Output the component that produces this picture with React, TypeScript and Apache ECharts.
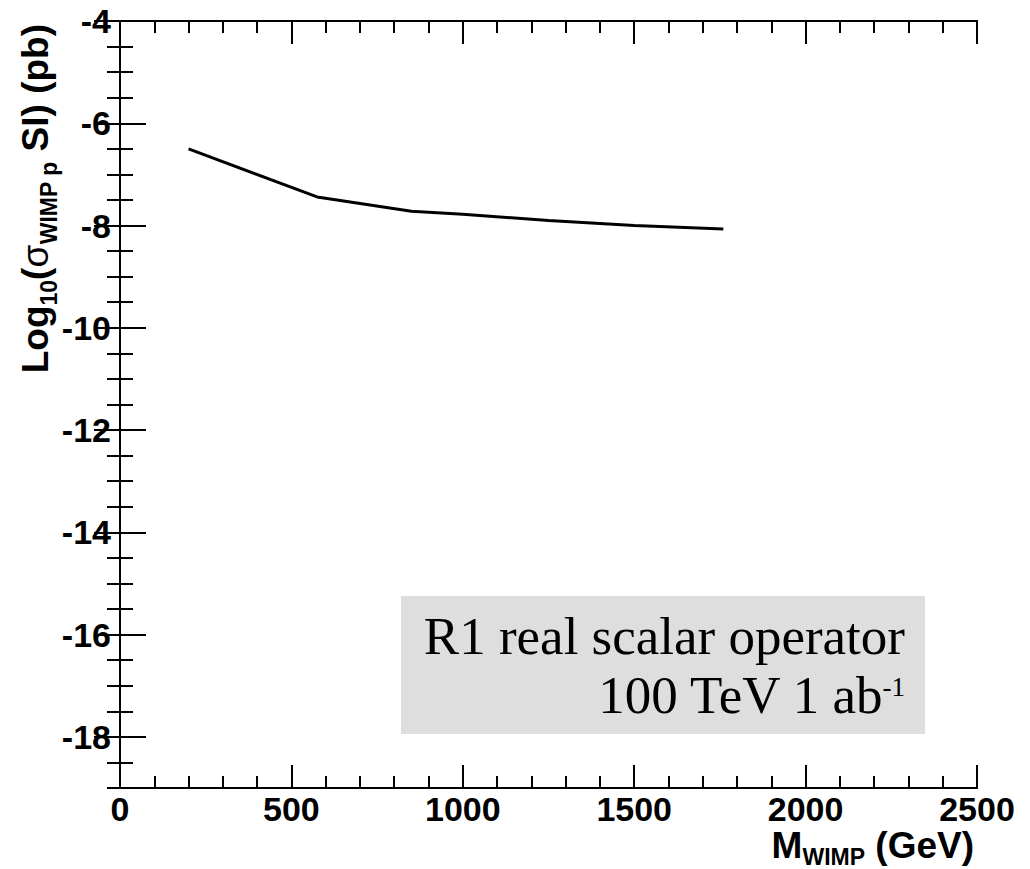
import React, { useEffect, useRef } from "react";
import * as echarts from "echarts";

// Data
const massGeV: number[] = [200, 575, 850, 1000, 1250, 1500, 1760];
const logSigma: number[] = [-6.5, -7.44, -7.72, -7.78, -7.9, -8.0, -8.07];
const yMajorTicks: number[] = [-18, -16, -14, -12, -10, -8, -6, -4];
const xRange: [number, number] = [0, 2500];
const yRange: [number, number] = [-19, -4];
const xTitleMain = "M";
const xTitleSub = "WIMP";
const xTitleUnit = " (GeV)";
const boxLine1 = "R1 real scalar operator";
const boxLine2 = "100 TeV 1 ab";
const boxSup = "-1";

const SANS = "Liberation Sans";
const SERIF = "Liberation Serif";

function measure(text: string, font: string): number {
  const c = document.createElement("canvas").getContext("2d");
  if (!c) return text.length * 20;
  c.font = font;
  return c.measureText(text).width;
}

export default function App() {
  const ref = useRef<HTMLDivElement>(null);

  useEffect(() => {
    if (!ref.current) return;
    const chart = echarts.init(ref.current, undefined, { renderer: "svg" });

    const line = { show: true, lineStyle: { color: "#000", width: 2 } };
    const noLabel = { show: false };
    const noSplit = { show: false };

    const xAx = (pos: string, interval: number, len: number, labels: boolean) => ({
      type: "value",
      position: pos,
      min: xRange[0],
      max: xRange[1],
      interval,
      axisLine: line,
      axisTick: { show: true, inside: true, length: len, lineStyle: { color: "#000", width: 2 } },
      axisLabel: labels
        ? {
            show: true,
            margin: 6,
            color: "#000",
            fontFamily: SANS,
            fontWeight: "bold",
            fontSize: 34,
            lineHeight: 30,
            formatter: (v: number) => String(v),
          }
        : noLabel,
      splitLine: noSplit,
    });

    const yAxMajor = (pos: string, labels: boolean) => ({
      type: "value",
      position: pos,
      min: yRange[0],
      max: yRange[1],
      interval: 1,
      axisLine: line,
      axisTick: {
        show: true,
        inside: true,
        length: 26,
        customValues: yMajorTicks,
        lineStyle: { color: "#000", width: 2 },
      },
      axisLabel: labels
        ? {
            show: true,
            customValues: yMajorTicks,
            margin: 9,
            color: "#000",
            fontFamily: SANS,
            fontWeight: "bold",
            fontSize: 34,
            formatter: (v: number) => String(v),
          }
        : noLabel,
      splitLine: noSplit,
    });

    const yAxMinor = (pos: string) => ({
      type: "value",
      position: pos,
      min: yRange[0],
      max: yRange[1],
      interval: 0.5,
      axisLine: line,
      axisTick: { show: true, inside: true, length: 13, lineStyle: { color: "#000", width: 2 } },
      axisLabel: noLabel,
      splitLine: noSplit,
    });

    const mainFont = `bold 37px "${SANS}"`;
    const subFont = `bold 23px "${SANS}"`;
    const xRight = 974;
    const wUnit = measure(xTitleUnit, mainFont);
    const wSub = measure(xTitleSub, subFont);

    const titleMain = { fontFamily: SANS, fontWeight: "bold", fontSize: 37, fill: "#000", lineHeight: 30 };
    const titleSub = { fontFamily: SANS, fontWeight: "bold", fontSize: 23, fill: "#000", lineHeight: 18 };

    const option: any = {
      animation: false,
      backgroundColor: "#fff",
      grid: { left: 120, right: 53, top: 21, bottom: 81 },
      xAxis: [
        xAx("bottom", 500, 23, true),
        xAx("bottom", 100, 12, false),
        xAx("top", 500, 23, false),
        xAx("top", 100, 12, false),
      ],
      yAxis: [yAxMajor("left", true), yAxMinor("left"), yAxMajor("right", false), yAxMinor("right")],
      series: [
        {
          type: "line",
          xAxisIndex: 0,
          yAxisIndex: 0,
          data: massGeV.map((m, i) => [m, logSigma[i]]),
          showSymbol: false,
          symbol: "none",
          lineStyle: { color: "#000", width: 3 },
          z: 5,
        },
      ],
      graphic: [
        {
          type: "text",
          x: xRight,
          y: 845,
          style: { ...titleMain, text: xTitleUnit, align: "right", verticalAlign: "middle" },
        },
        {
          type: "text",
          x: xRight - wUnit,
          y: 857,
          style: { ...titleSub, text: xTitleSub, align: "right", verticalAlign: "middle" },
        },
        {
          type: "text",
          x: xRight - wUnit - wSub,
          y: 845,
          style: { ...titleMain, text: xTitleMain, align: "right", verticalAlign: "middle" },
        },
        {
          type: "text",
          x: 35,
          y: 24,
          rotation: Math.PI / 2,
          style: {
            text: "{m|Log}{s|10}{m|(}{g|σ}{s|WIMP p}{m| SI) (pb)}",
            align: "right",
            verticalAlign: "middle",
            rich: {
              m: { fontFamily: SANS, fontWeight: "bold", fontSize: 37, color: "#000", lineHeight: 50, verticalAlign: "middle" },
              g: { fontFamily: SANS, fontWeight: "normal", fontSize: 37, color: "#000", lineHeight: 50, verticalAlign: "middle" },
              s: { fontFamily: SANS, fontWeight: "bold", fontSize: 23, color: "#000", lineHeight: 50, verticalAlign: "bottom" },
            },
          },
        },
        {
          type: "rect",
          shape: { x: 401, y: 596, width: 524, height: 138 },
          style: { fill: "#dedede" },
          z: 10,
        },
        {
          type: "text",
          x: 905,
          y: 636,
          z: 11,
          style: {
            text: boxLine1,
            align: "right",
            verticalAlign: "middle",
            fontFamily: SERIF,
            fontSize: 53,
            fill: "#000",
          },
        },
        {
          type: "text",
          x: 905,
          y: 695,
          z: 11,
          style: {
            text: `{n|${boxLine2}}{p|${boxSup}}`,
            align: "right",
            verticalAlign: "middle",
            rich: {
              n: { fontFamily: SERIF, fontSize: 53, color: "#000", lineHeight: 53, verticalAlign: "middle" },
              p: { fontFamily: SERIF, fontSize: 27, color: "#000", lineHeight: 27, verticalAlign: "top", padding: [5, 0, 0, 0] },
            },
          },
        },
      ],
    };

    chart.setOption(option);
    return () => chart.dispose();
  }, []);

  return (
    <div
      ref={ref}
      style={{ position: "absolute", left: 0, top: 0, width: 1030, height: 869 }}
    />
  );
}
